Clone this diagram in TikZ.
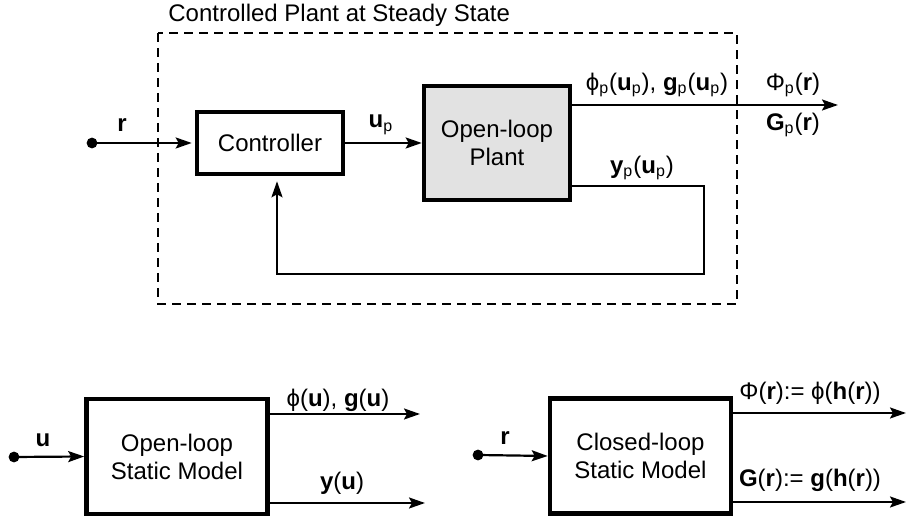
\documentclass[tikz,border=0pt]{standalone}
\usepackage{fontspec}
\setmainfont{Liberation Sans}
\usepackage{tikz}
\usetikzlibrary{arrows.meta,calc,positioning}
\tikzset{
  sig/.style={line width=1.1pt, arrows={-Stealth[length=8pt, width=5.5pt, inset=1.5pt]}},
  blockbox/.style={draw, line width=2.3pt, minimum width=73pt, minimum height=31pt, align=center, inner sep=2pt},
  modelbox/.style={draw, line width=2.3pt, minimum width=90.5pt, minimum height=57.5pt, align=center, inner sep=2pt},
  lbl/.style={inner sep=1pt},
  dotpt/.style={fill, circle, inner sep=0pt, minimum size=5.4pt},
  every node/.style={font=\fontsize{12}{14}\selectfont}
}
\definecolor{PlantGray}{HTML}{E2E2E2}
\newcommand{\subp}{\textsubscript{p}}
\newcommand{\bv}[1]{\textbf{#1}}

\begin{document}
\begin{tikzpicture}[x=0.5pt, y=-0.5pt]
\useasboundingbox (0,0) rectangle (907,517);

% controlled plant
\draw[line width=0.75pt, dash pattern=on 4.5pt off 3pt] (158,33) rectangle (737,304);
\node[anchor=west, inner sep=0pt] (title) at (168,15) {Controlled Plant at Steady State};

\node[blockbox] (ctrl) at (270,143) {Controller};
\node[blockbox, fill=PlantGray, minimum height=57pt] (plant) at (497,143) {Open-loop\\Plant};

\node[dotpt] (rin) at (92,143) {};
\coordinate (phitip) at (838,105);
\coordinate (ycorner) at (704,186);
\coordinate (fbl) at (277,274);

\draw[sig, shorten >=1.5pt] (rin.center) -- (ctrl.west);
\draw[sig] (ctrl.east) -- (plant.west);
\draw[sig] (plant.east |- phitip) -- (phitip);
\draw[sig, shorten >=2.5pt] (plant.east |- ycorner) -- (ycorner) |- (fbl) -- (fbl |- ctrl.south);

\node[lbl] (r1) at (122,125) {\bv{r}};
\node[lbl] (up) at (381,125) {\bv{u}\subp};
\node[lbl] (phip) at (657,85) {ϕ\subp(\bv{u}\subp), \bv{g}\subp(\bv{u}\subp)};
\node[lbl] (Phip) at (793,85) {Φ\subp(\bv{r})};
\node[lbl] (Gp) at (793,125) {\bv{G}\subp(\bv{r})};
\node[lbl] (yp) at (642,168) {\bv{y}\subp(\bv{u}\subp)};

% open-loop static model
\node[modelbox] (olm) at (177,456.5) {Open-loop\\Static Model};
\node[dotpt] (uin) at (14,457) {};
\coordinate (olt) at (420,414);
\coordinate (olb) at (425,503);
\draw[sig] (uin.center) -- (olm.west);
\draw[sig] (olm.east |- olt) -- (olt);
\draw[sig] (olm.east |- olb) -- (olb);
\node[lbl] (u2) at (43,440) {\bv{u}};
\node[lbl] (phiu) at (338,400) {ϕ(\bv{u}), \bv{g}(\bv{u})};
\node[lbl] (yu) at (342,483) {\bv{y}(\bv{u})};

% closed-loop static model
\node[modelbox] (clm) at (640.5,456) {Closed-loop\\Static Model};
\node[dotpt] (rin2) at (478,455) {};
\coordinate (clt) at (906,413);
\coordinate (clb) at (906,502);
\draw[sig] (rin2.center) -- (clm.west);
\draw[sig] (clm.east |- clt) -- (clt);
\draw[sig] (clm.east |- clb) -- (clb);
\node[lbl] (r2) at (505,438) {\bv{r}};
\node[lbl] (Phir) at (810,393) {Φ(\bv{r}):= ϕ(\bv{h}(\bv{r}))};
\node[lbl] (Gr) at (810,480) {\bv{G}(\bv{r}):= \bv{g}(\bv{h}(\bv{r}))};
\end{tikzpicture}
\end{document}
